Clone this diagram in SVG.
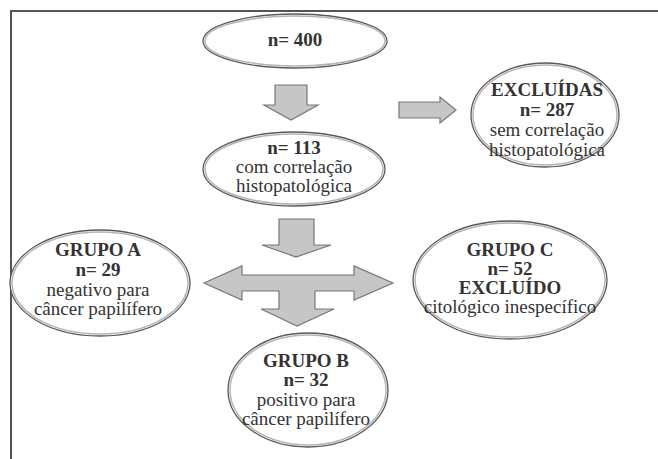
<svg xmlns="http://www.w3.org/2000/svg" width="658" height="459" viewBox="0 0 658 459">
<style>
.frame{fill:none;stroke:#555;stroke-width:2}
.eo{fill:#fff;stroke:#5a5a5a;stroke-width:1.3}
.ei{fill:none;stroke:#b4b4b4;stroke-width:1.5}
.arr{fill:#c6c6c6;stroke:#777;stroke-width:1.2;stroke-linejoin:miter}
text{font-family:"Liberation Serif","Times New Roman",serif;font-size:19px;fill:#333;text-anchor:middle}
.b{font-weight:bold}
</style>
<rect width="658" height="459" fill="#fff"/>
<path class="frame" d="M11,459 V11 H658"/>
<g id="connectors">
<path class="arr" d="M275,85 H307 V105 H318 L291,120 L264,105 H275 Z"/>
<path class="arr" d="M399,102 H440 V97 L456,110 L440,123 V118 H399 Z"/>
<path class="arr" d="M279,219 H314 V245 H331 L296,257 L262,245 H279 Z"/>
<path class="arr" d="M204,283 L242,266 V275 H354 V266 L393,283 L354,300 V291 H315 V309 H334 L297,326 L261,309 H279 V291 H242 V300 Z"/>
</g>
<g id="n400">
<ellipse class="eo" cx="295" cy="41" rx="92" ry="27"/>
<ellipse class="ei" cx="295" cy="41" rx="90" ry="25"/>
<text class="b" x="295" y="46">n= 400</text>
</g>
<g id="excluidas">
<ellipse class="eo" cx="545" cy="115" rx="74" ry="52"/>
<ellipse class="ei" cx="545" cy="115" rx="72" ry="50"/>
<text class="b" x="547" y="96">EXCLUÍDAS</text>
<text class="b" x="547" y="116">n= 287</text>
<text x="547" y="136">sem correlação</text>
<text x="547" y="156">histopatológica</text>
</g>
<g id="n113">
<ellipse class="eo" cx="294" cy="169" rx="91" ry="37"/>
<ellipse class="ei" cx="294" cy="169" rx="89" ry="35"/>
<text class="b" x="294" y="154">n= 113</text>
<text x="294" y="173">com correlação</text>
<text x="294" y="192">histopatológica</text>
</g>
<g id="grupoA">
<ellipse class="eo" cx="100" cy="283" rx="90" ry="53"/>
<ellipse class="ei" cx="100" cy="283" rx="88" ry="51"/>
<text class="b" x="98" y="256">GRUPO A</text>
<text class="b" x="98" y="276">n= 29</text>
<text x="98" y="296">negativo para</text>
<text x="98" y="315">câncer papilífero</text>
</g>
<g id="grupoC">
<ellipse class="eo" cx="510" cy="280" rx="97" ry="59"/>
<ellipse class="ei" cx="510" cy="280" rx="95" ry="57"/>
<text class="b" x="510" y="256">GRUPO C</text>
<text class="b" x="510" y="275">n= 52</text>
<text class="b" x="510" y="294">EXCLUÍDO</text>
<text x="510" y="313">citológico inespecífico</text>
</g>
<g id="grupoB">
<ellipse class="eo" cx="308" cy="390" rx="80" ry="57"/>
<ellipse class="ei" cx="308" cy="390" rx="78" ry="55"/>
<text class="b" x="306" y="367">GRUPO B</text>
<text class="b" x="306" y="386">n= 32</text>
<text x="306" y="406">positivo para</text>
<text x="306" y="425">câncer papilífero</text>
</g>
</svg>
